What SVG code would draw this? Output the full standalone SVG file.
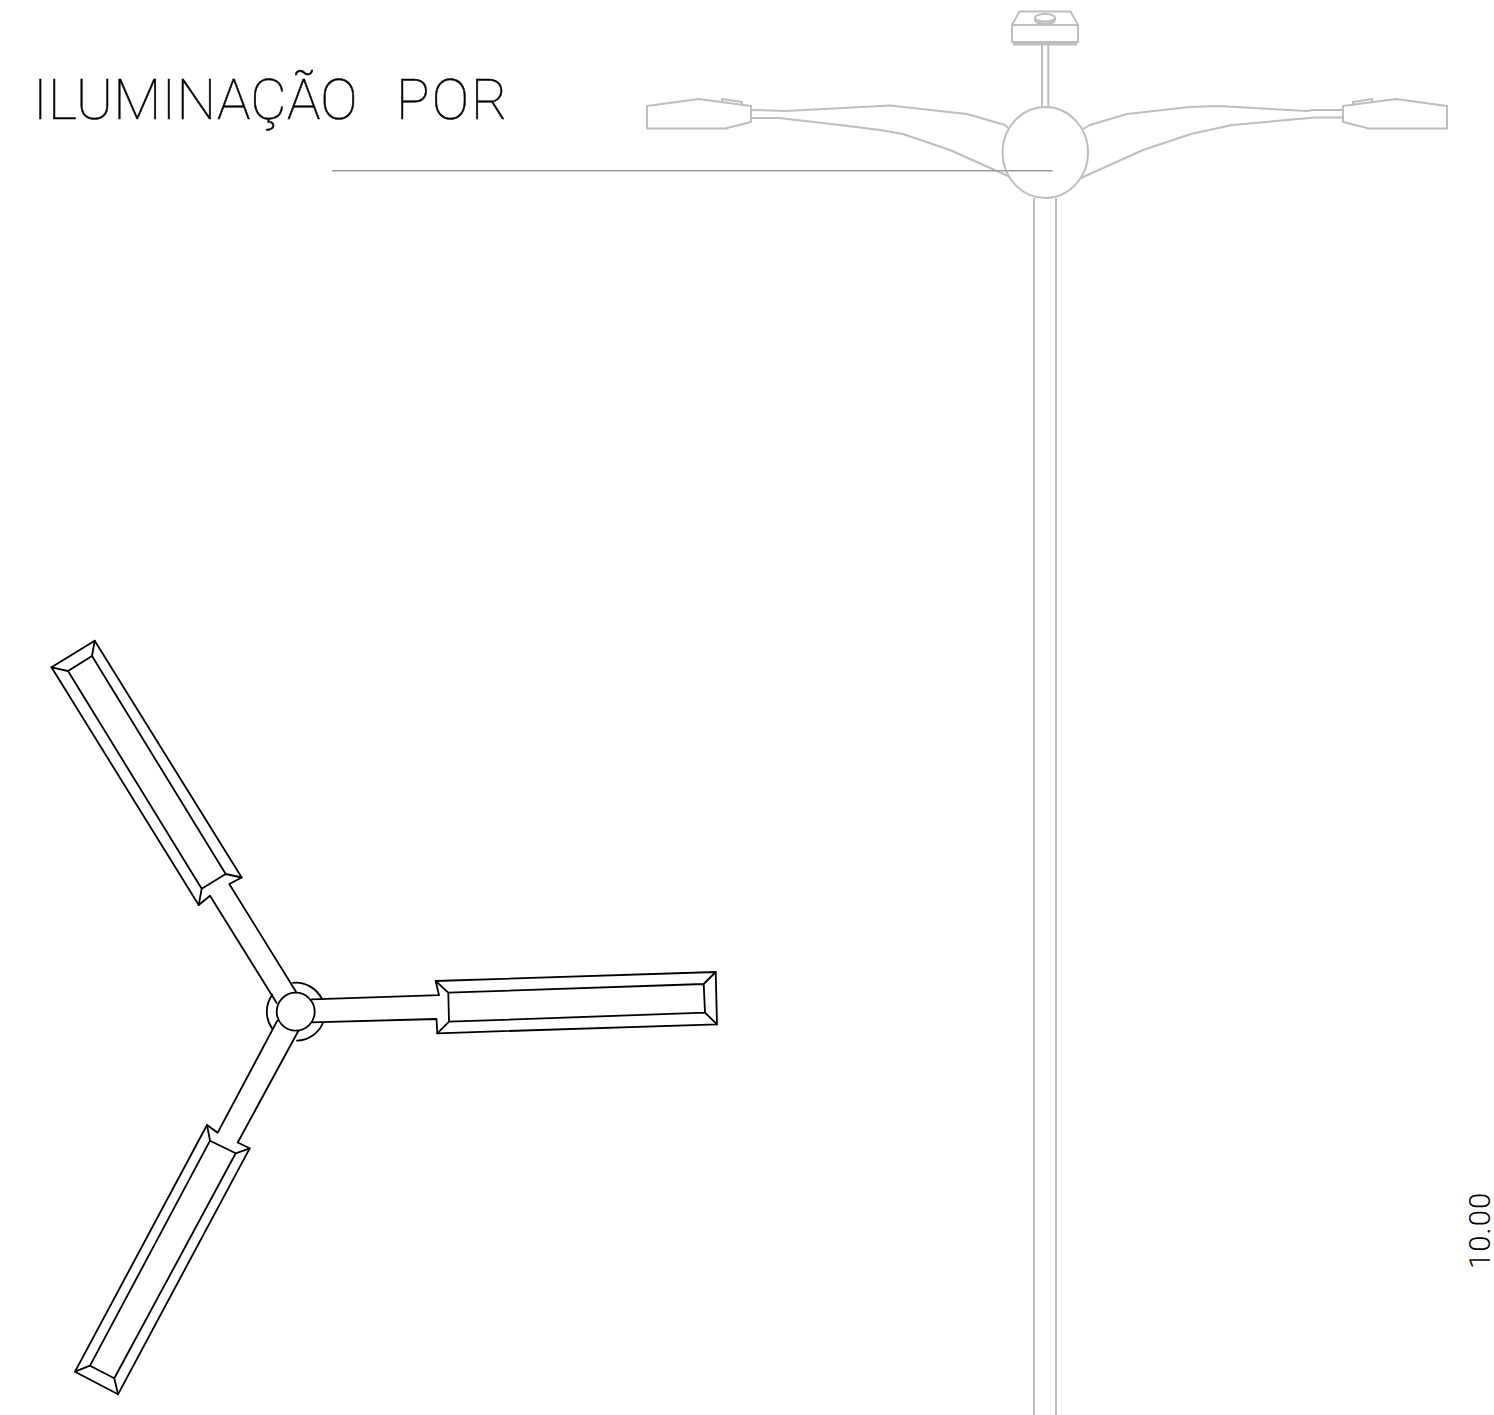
<svg xmlns="http://www.w3.org/2000/svg" width="1494" height="1415" viewBox="0 0 1494 1415">
<style>
.g{fill:none;stroke:#bdbdbd;stroke-width:2;stroke-linejoin:round}
.k{fill:none;stroke:#000;stroke-width:1.8;stroke-linejoin:round;stroke-linecap:round}
.t{font-family:Roboto,"Liberation Sans",sans-serif;font-weight:100;fill:#000;stroke:#000;stroke-width:.5}
</style>
<rect width="1494" height="1415" fill="#fff"/>
<g id="elevation">
<g id="top-fixture" class="g">
<path d="M1019.5 11.5H1070.5L1078 25V42H1012V25ZM1012 25H1078M1042 42V107M1048.3 42V107"/>
<path d="M1013 44H1077" stroke-width="3"/>
<ellipse cx="1045" cy="17.8" rx="10" ry="3.8"/>
<path d="M1035 17.8V20C1036 25 1054 25 1055 20V17.8"/>
</g>
<g id="left-lamp" class="g">
<path d="M647 106L699 99L751 106V122L727 128V128.5H647ZM722 103V99L742 102V105.5"/>
<path d="M751 110L786 111L890 105.5L967 114L1005 125L1008 128M751 118H779L840 125L880 130L903 134L950 150L1008 176"/>
</g>
<g id="right-lamp" class="g">
<path d="M1447 106L1396 99L1343 106V122L1367 128V128.5H1447ZM1353 105V102L1372 99V102"/>
<path d="M1343 110H1313L1307 111L1218 106L1190 107L1127 114L1090 125L1083 129M1343 117.5H1315L1232 125L1191 134L1143 150L1081 178"/>
</g>
<ellipse id="hub" class="g" cx="1045.3" cy="152.5" rx="42.8" ry="45.5"/>
<g id="pole" class="g"><path d="M1034 198V1415M1056 198V1415"/></g>
<path id="level-line" d="M332 170.8H1052.7" fill="none" stroke="#999" stroke-width="1.5"/>
</g>
<g id="plan" class="k">
<circle cx="295.7" cy="1011.7" r="19"/>
<path d="M293 982.8A29 29 0 0 1 321.9 999M322.7 1023.5A29 29 0 0 1 297 1040.7M272.3 1028.7A29 29 0 0 1 272.3 994.7"/>
<g id="arm-1">
<path d="M51.5 667.3L94.7 640.7L241.7 877.5L229.3 884L296 991.7M276.7 1003L210 895.7L198.7 905L51.5 667.3"/>
<path d="M68 671L92 656L225.7 874L201.7 888.7ZM51.5 667.3L68 671M94.7 640.7L92 656M241.7 877.5L225.7 874M198.7 905L201.7 888.7"/>
</g>
<g id="arm-2">
<path d="M311.7 999.3L439 995.2L435.7 981L715.7 972L717 1024.3L437.3 1033.3L436.5 1019L311.7 1022.3"/>
<path d="M448.3 992.7L703.7 984L705 1012.7L449 1021.7ZM435.7 981L448.3 992.7M715.7 972L703.7 984M717 1024.3L705 1012.7M437.3 1033.3L449 1021.7"/>
</g>
<g id="arm-3">
<path d="M277.3 1020.7L217.7 1132.7L207 1125L75 1371.7L118 1394.3L249.7 1148.3L237.7 1142.5L298.3 1031"/>
<path d="M210 1140.7L235.7 1153.3L114.3 1378.3L90 1365.7ZM207 1125L210 1140.7M249.7 1148.3L235.7 1153.3M118 1394.3L114.3 1378.3M75 1371.7L90 1365.7"/>
</g>
</g>
<text class="t" x="33" y="119" font-size="56" letter-spacing="0.3">ILUMINAÇÃO <tspan x="396" letter-spacing="2">POR</tspan></text>
<text class="t" font-size="29" transform="translate(1490 1269) rotate(-90)" letter-spacing="1.2" style="stroke:none;font-weight:300">10.00</text>
</svg>
